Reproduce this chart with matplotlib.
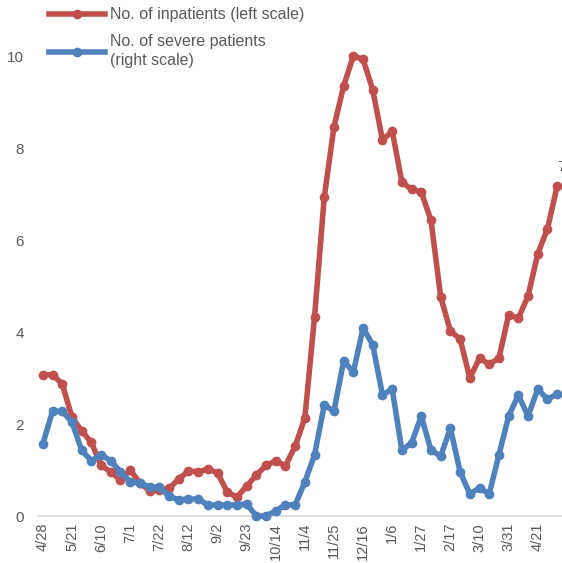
import numpy as np
import matplotlib.pyplot as plt

plt.rcParams['font.family'] = ['Liberation Sans', 'DejaVu Sans']

# Weekly values
inpatients = [3.07, 3.07, 2.87, 2.15, 1.85, 1.6, 1.1, 0.96, 0.78, 1.0,
              0.72, 0.55, 0.57, 0.6, 0.8, 0.98, 0.96, 1.02, 0.94, 0.52,
              0.41, 0.65, 0.89, 1.1, 1.2, 1.09, 1.52, 2.13, 4.33, 6.93,
              8.46, 9.35, 10.0, 9.93, 9.26, 8.17, 8.37, 7.26, 7.1, 7.04,
              6.43, 4.76, 4.02, 3.85, 3.0, 3.43, 3.3, 3.43, 4.37, 4.3,
              4.78, 5.7, 6.24, 7.17]
severe = [1.57, 2.28, 2.28, 2.04, 1.43, 1.2, 1.33, 1.2, 0.96, 0.74,
          0.72, 0.63, 0.63, 0.43, 0.35, 0.37, 0.37, 0.24, 0.24, 0.24,
          0.24, 0.26, 0.0, 0.0, 0.11, 0.24, 0.24, 0.74, 1.33, 2.41,
          2.28, 3.37, 3.13, 4.09, 3.72, 2.63, 2.76, 1.43, 1.59, 2.17,
          1.43, 1.3, 1.91, 0.96, 0.48, 0.61, 0.48, 1.33, 2.17, 2.63,
          2.17, 2.76, 2.54, 2.65]
tick_labels = ['4/28', '5/21', '6/10', '7/1', '7/22', '8/12', '9/2', '9/23',
               '10/14', '11/4', '11/25', '12/16', '1/6', '1/27', '2/17',
               '3/10', '3/31', '4/21']

red = '#C0504D'
blue = '#4F81BD'
grey = '#595959'

x = np.arange(len(inpatients))

fig = plt.figure(figsize=(5.62, 5.63), dpi=100)
ax = fig.add_axes([38/562, 47/563, 1 - 38/562, 1 - 47/563])
ax2 = ax.twinx()

l1, = ax.plot(x, inpatients, color=red, lw=4, marker='o', ms=6,
              label='No. of inpatients (left scale)', clip_on=False)
l2, = ax2.plot(x, severe, color=blue, lw=4, marker='o', ms=6,
               label='No. of severe patients\n(right scale)', clip_on=False)

ymax = 516 / 46
for a in (ax, ax2):
    a.set_ylim(0, ymax)
    a.set_xlim(-0.5, len(x) - 0.5)
    for s in a.spines.values():
        s.set_visible(False)
ax2.set_yticks([])

ax.spines['bottom'].set_visible(True)
ax.spines['bottom'].set_color('#D9D9D9')
ax.spines['bottom'].set_linewidth(1.2)

ax.set_yticks([0, 2, 4, 6, 8, 10])
ax.tick_params(axis='y', length=0, labelsize=11, labelcolor=grey, pad=10)
ax.set_xticks(x[::3])
ax.set_xticklabels(tick_labels, rotation=90, fontsize=10.5, color=grey)
ax.tick_params(axis='x', length=0, pad=5)

# data label on the last point (cut off at the right edge, as in the source)
ax.annotate('7.2', xy=(x[-1], inpatients[-1]), xytext=(0, 14),
            textcoords='offset points', ha='left', va='center',
            fontsize=11, color=grey, annotation_clip=False)

leg = fig.legend(handles=[l1, l2], loc='upper left',
                 bbox_to_anchor=(46/562, 1 - 4/563),
                 frameon=False, fontsize=11.5, handlelength=3.5,
                 handletextpad=0.3, labelspacing=0.75, borderaxespad=0,
                 borderpad=0.2, labelcolor=grey)
for t in leg.get_texts():
    t.set_linespacing(1.35)

fig.savefig('out.png', dpi=100)
